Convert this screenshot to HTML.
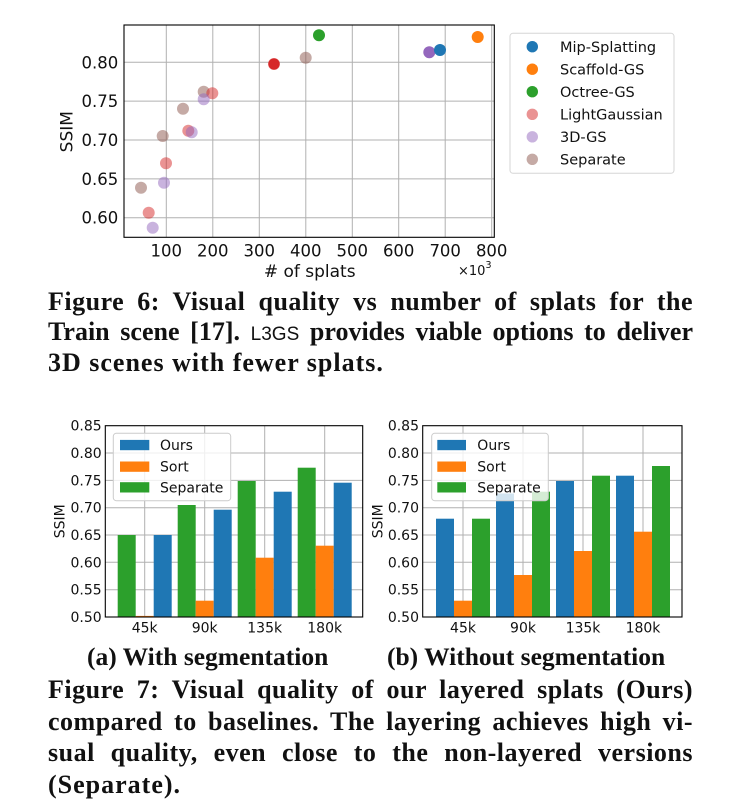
<!DOCTYPE html>
<html>
<head>
<meta charset="utf-8">
<style>
  html,body{margin:0;padding:0;background:#fff;}
  body{width:730px;height:806px;position:relative;overflow:hidden;}
  svg{position:absolute;left:0;top:0;}
  .cap{position:absolute;left:48px;width:645px;font-family:"Liberation Serif",serif;font-weight:bold;font-size:26px;line-height:26px;letter-spacing:0.5px;color:#111;text-align:justify;text-align-last:justify;}
  .tight{letter-spacing:0;}
  .last{text-align:left;text-align-last:left;width:auto;white-space:nowrap;letter-spacing:1px;}
  .sub{position:absolute;font-family:"Liberation Serif",serif;font-weight:bold;font-size:25.5px;line-height:25.5px;color:#111;white-space:nowrap;}
  .sc{font-family:"Liberation Sans",sans-serif;font-weight:normal;font-size:19px;letter-spacing:0;}
</style>
</head>
<body>
<svg width="730" height="806" viewBox="0 0 730 806" xmlns="http://www.w3.org/2000/svg" font-family="'DejaVu Sans', sans-serif">
  <!-- ============ Scatter plot ============ -->
  <g stroke="#b0b0b0" stroke-width="1">
    <line x1="166.3" y1="25" x2="166.3" y2="237.3"/>
    <line x1="212.8" y1="25" x2="212.8" y2="237.3"/>
    <line x1="259.3" y1="25" x2="259.3" y2="237.3"/>
    <line x1="305.8" y1="25" x2="305.8" y2="237.3"/>
    <line x1="352.3" y1="25" x2="352.3" y2="237.3"/>
    <line x1="398.7" y1="25" x2="398.7" y2="237.3"/>
    <line x1="445.2" y1="25" x2="445.2" y2="237.3"/>
    <line x1="491.7" y1="25" x2="491.7" y2="237.3"/>
    <line x1="124" y1="217.7" x2="494.3" y2="217.7"/>
    <line x1="124" y1="178.85" x2="494.3" y2="178.85"/>
    <line x1="124" y1="140" x2="494.3" y2="140"/>
    <line x1="124" y1="101.15" x2="494.3" y2="101.15"/>
    <line x1="124" y1="62.3" x2="494.3" y2="62.3"/>
  </g>
  <!-- points -->
  <g>
    <circle cx="141" cy="187.7" r="6" fill="#8c564b" fill-opacity="0.5"/>
    <circle cx="162.7" cy="136" r="6" fill="#8c564b" fill-opacity="0.5"/>
    <circle cx="183" cy="108.7" r="6" fill="#8c564b" fill-opacity="0.5"/>
    <circle cx="203.7" cy="91.7" r="6" fill="#8c564b" fill-opacity="0.5"/>
    <circle cx="305.7" cy="57.7" r="6" fill="#8c564b" fill-opacity="0.5"/>

    <circle cx="148.7" cy="212.7" r="6" fill="#d62728" fill-opacity="0.5"/>
    <circle cx="166" cy="163.3" r="6" fill="#d62728" fill-opacity="0.5"/>
    <circle cx="188.3" cy="130.7" r="6" fill="#d62728" fill-opacity="0.5"/>
    <circle cx="212.3" cy="93.3" r="6" fill="#d62728" fill-opacity="0.5"/>
    <circle cx="274" cy="64" r="6" fill="#d62728" fill-opacity="0.5"/>

    <circle cx="152.7" cy="227.7" r="6" fill="#9467bd" fill-opacity="0.5"/>
    <circle cx="164" cy="182.7" r="6" fill="#9467bd" fill-opacity="0.5"/>
    <circle cx="191.7" cy="132.3" r="6" fill="#9467bd" fill-opacity="0.5"/>
    <circle cx="203.7" cy="99.3" r="6" fill="#9467bd" fill-opacity="0.5"/>

    <circle cx="274" cy="64" r="5.6" fill="#d62728"/>
    <circle cx="319" cy="35.3" r="6" fill="#2ca02c"/>
    <circle cx="429.3" cy="52.3" r="6" fill="#9467bd"/>
    <circle cx="440" cy="50" r="6" fill="#1f77b4"/>
    <circle cx="477.7" cy="37" r="6" fill="#ff7f0e"/>
  </g>
  <rect x="124" y="25" width="370.3" height="212.3" fill="none" stroke="#000" stroke-width="1.1"/>
  <!-- x ticks -->
  <g font-size="16.5" text-anchor="middle" fill="#111">
    <text x="166.3" y="256.5">100</text>
    <text x="212.8" y="256.5">200</text>
    <text x="259.3" y="256.5">300</text>
    <text x="305.8" y="256.5">400</text>
    <text x="352.3" y="256.5">500</text>
    <text x="398.7" y="256.5">600</text>
    <text x="445.2" y="256.5">700</text>
    <text x="491.7" y="256.5">800</text>
  </g>
  <g font-size="16.5" text-anchor="end" fill="#111">
    <text x="118.3" y="223.7">0.60</text>
    <text x="118.3" y="184.85">0.65</text>
    <text x="118.3" y="146">0.70</text>
    <text x="118.3" y="107.15">0.75</text>
    <text x="118.3" y="68.3">0.80</text>
  </g>
  <text x="309.7" y="277" font-size="17" text-anchor="middle" fill="#111"># of splats</text>
  <text x="458" y="275" font-size="13" fill="#111">×10<tspan dy="-7" font-size="9.5">3</tspan></text>
  <text transform="translate(72.5,131.7) rotate(-90)" font-size="17" text-anchor="middle" fill="#111">SSIM</text>

  <!-- scatter legend -->
  <rect x="510" y="33.3" width="164" height="140" rx="3" fill="#fff" stroke="#d6d6d6" stroke-width="1"/>
  <g>
    <circle cx="532.3" cy="46.7" r="5.7" fill="#1f77b4"/>
    <circle cx="532.3" cy="69.2" r="5.7" fill="#ff7f0e"/>
    <circle cx="532.3" cy="91.7" r="5.7" fill="#2ca02c"/>
    <circle cx="532.3" cy="114.3" r="5.7" fill="#d62728" fill-opacity="0.5"/>
    <circle cx="532.3" cy="136.8" r="5.7" fill="#9467bd" fill-opacity="0.5"/>
    <circle cx="532.3" cy="159.3" r="5.7" fill="#8c564b" fill-opacity="0.5"/>
  </g>
  <g font-size="14.5" fill="#111">
    <text x="560" y="51.9">Mip-Splatting</text>
    <text x="560" y="74.4">Scaffold-GS</text>
    <text x="560" y="96.9">Octree-GS</text>
    <text x="560" y="119.5">LightGaussian</text>
    <text x="560" y="142">3D-GS</text>
    <text x="560" y="164.5">Separate</text>
  </g>

  <!-- ============ Bar chart (a) ============ -->
  <g stroke="#b0b0b0" stroke-width="1">
    <line x1="105.3" y1="589.7" x2="362.7" y2="589.7"/>
    <line x1="105.3" y1="562.3" x2="362.7" y2="562.3"/>
    <line x1="105.3" y1="535" x2="362.7" y2="535"/>
    <line x1="105.3" y1="507.7" x2="362.7" y2="507.7"/>
    <line x1="105.3" y1="480.4" x2="362.7" y2="480.4"/>
    <line x1="105.3" y1="453" x2="362.7" y2="453"/>
    <line x1="144.7" y1="425.7" x2="144.7" y2="617"/>
    <line x1="204.7" y1="425.7" x2="204.7" y2="617"/>
    <line x1="264.7" y1="425.7" x2="264.7" y2="617"/>
    <line x1="324.7" y1="425.7" x2="324.7" y2="617"/>
  </g>
  <g>
    <rect x="117.7" y="535" width="18" height="82" fill="#2ca02c"/>
    <rect x="135.7" y="615.9" width="18" height="1.1" fill="#ff7f0e"/>
    <rect x="153.7" y="535" width="18" height="82" fill="#1f77b4"/>
    <rect x="177.7" y="505" width="18" height="112" fill="#2ca02c"/>
    <rect x="195.7" y="600.7" width="18" height="16.3" fill="#ff7f0e"/>
    <rect x="213.7" y="509.7" width="18" height="107.3" fill="#1f77b4"/>
    <rect x="237.7" y="481" width="18" height="136" fill="#2ca02c"/>
    <rect x="255.7" y="557.7" width="18" height="59.3" fill="#ff7f0e"/>
    <rect x="273.7" y="491.7" width="18" height="125.3" fill="#1f77b4"/>
    <rect x="297.7" y="467.7" width="18" height="149.3" fill="#2ca02c"/>
    <rect x="315.7" y="545.7" width="18" height="71.3" fill="#ff7f0e"/>
    <rect x="333.7" y="482.7" width="18" height="134.3" fill="#1f77b4"/>
  </g>
  <rect x="105.3" y="425.7" width="257.4" height="191.3" fill="none" stroke="#000" stroke-width="1.1"/>
  <rect x="113.3" y="433.3" width="117.4" height="67.4" rx="3" fill="#fff" fill-opacity="0.8" stroke="#cccccc" stroke-width="1"/>
  <rect x="120" y="439.9" width="29.3" height="10.3" fill="#1f77b4"/>
  <rect x="120" y="461.5" width="29.3" height="10.3" fill="#ff7f0e"/>
  <rect x="120" y="482.2" width="29.3" height="10.3" fill="#2ca02c"/>
  <g font-size="14" fill="#111">
    <text x="160" y="450">Ours</text>
    <text x="160" y="471.7">Sort</text>
    <text x="160" y="492.3">Separate</text>
  </g>
  <g font-size="14" text-anchor="end" fill="#111">
    <text x="101.7" y="622">0.50</text>
    <text x="101.7" y="594.7">0.55</text>
    <text x="101.7" y="567.3">0.60</text>
    <text x="101.7" y="540">0.65</text>
    <text x="101.7" y="512.7">0.70</text>
    <text x="101.7" y="485.4">0.75</text>
    <text x="101.7" y="458">0.80</text>
    <text x="101.7" y="430.7">0.85</text>
  </g>
  <g font-size="14" text-anchor="middle" fill="#111">
    <text x="144.7" y="632.5">45k</text>
    <text x="204.7" y="632.5">90k</text>
    <text x="264.7" y="632.5">135k</text>
    <text x="324.7" y="632.5">180k</text>
  </g>
  <text transform="translate(64.5,521.3) rotate(-90)" font-size="14" text-anchor="middle" fill="#111">SSIM</text>

  <!-- ============ Bar chart (b) ============ -->
  <g stroke="#b0b0b0" stroke-width="1">
    <line x1="422.7" y1="589.7" x2="682" y2="589.7"/>
    <line x1="422.7" y1="562.3" x2="682" y2="562.3"/>
    <line x1="422.7" y1="535" x2="682" y2="535"/>
    <line x1="422.7" y1="507.7" x2="682" y2="507.7"/>
    <line x1="422.7" y1="480.4" x2="682" y2="480.4"/>
    <line x1="422.7" y1="453" x2="682" y2="453"/>
    <line x1="463" y1="425.7" x2="463" y2="617"/>
    <line x1="523" y1="425.7" x2="523" y2="617"/>
    <line x1="583" y1="425.7" x2="583" y2="617"/>
    <line x1="643" y1="425.7" x2="643" y2="617"/>
  </g>
  <g>
    <rect x="436" y="518.7" width="18" height="98.3" fill="#1f77b4"/>
    <rect x="454" y="600.7" width="18" height="16.3" fill="#ff7f0e"/>
    <rect x="472" y="518.7" width="18" height="98.3" fill="#2ca02c"/>
    <rect x="496" y="493.5" width="18" height="123.5" fill="#1f77b4"/>
    <rect x="514" y="575" width="18" height="42" fill="#ff7f0e"/>
    <rect x="532" y="491.7" width="18" height="125.3" fill="#2ca02c"/>
    <rect x="556" y="481" width="18" height="136" fill="#1f77b4"/>
    <rect x="574" y="551" width="18" height="66" fill="#ff7f0e"/>
    <rect x="592" y="475.7" width="18" height="141.3" fill="#2ca02c"/>
    <rect x="616" y="475.7" width="18" height="141.3" fill="#1f77b4"/>
    <rect x="634" y="531.7" width="18" height="85.3" fill="#ff7f0e"/>
    <rect x="652" y="466" width="18" height="151" fill="#2ca02c"/>
  </g>
  <rect x="422.7" y="425.7" width="259.3" height="191.3" fill="none" stroke="#000" stroke-width="1.1"/>
  <rect x="431.7" y="433.3" width="116.6" height="67.4" rx="3" fill="#fff" fill-opacity="0.8" stroke="#cccccc" stroke-width="1"/>
  <rect x="437.3" y="439.9" width="28.7" height="10.3" fill="#1f77b4"/>
  <rect x="437.3" y="461.5" width="28.7" height="10.3" fill="#ff7f0e"/>
  <rect x="437.3" y="482.2" width="28.7" height="10.3" fill="#2ca02c"/>
  <g font-size="14" fill="#111">
    <text x="477.3" y="450">Ours</text>
    <text x="477.3" y="471.7">Sort</text>
    <text x="477.3" y="492.3">Separate</text>
  </g>
  <g font-size="14" text-anchor="end" fill="#111">
    <text x="419" y="622">0.50</text>
    <text x="419" y="594.7">0.55</text>
    <text x="419" y="567.3">0.60</text>
    <text x="419" y="540">0.65</text>
    <text x="419" y="512.7">0.70</text>
    <text x="419" y="485.4">0.75</text>
    <text x="419" y="458">0.80</text>
    <text x="419" y="430.7">0.85</text>
  </g>
  <g font-size="14" text-anchor="middle" fill="#111">
    <text x="463" y="632.5">45k</text>
    <text x="523" y="632.5">90k</text>
    <text x="583" y="632.5">135k</text>
    <text x="643" y="632.5">180k</text>
  </g>
  <text transform="translate(382.5,521.3) rotate(-90)" font-size="14" text-anchor="middle" fill="#111">SSIM</text>
</svg>

<!-- Captions -->
<div class="cap" style="top:289.2px;">Figure 6: Visual quality vs number of splats for the</div>
<div class="cap tight" style="top:319.2px;">Train scene [17]. <span class="sc">L3GS</span> provides viable options to deliver</div>
<div class="cap last" style="top:350.2px;">3D scenes with fewer splats.</div>

<div class="sub" style="top:643.6px;left:87px;">(a) With segmentation</div>
<div class="sub" style="top:643.6px;left:387px;">(b) Without segmentation</div>

<div class="cap" style="top:676.5px;">Figure 7: Visual quality of our layered splats (Ours)</div>
<div class="cap" style="top:709px;">compared to baselines. The layering achieves high vi-</div>
<div class="cap" style="top:740px;">sual quality, even close to the non-layered versions</div>
<div class="cap last" style="top:772.2px;">(Separate).</div>
</body>
</html>
